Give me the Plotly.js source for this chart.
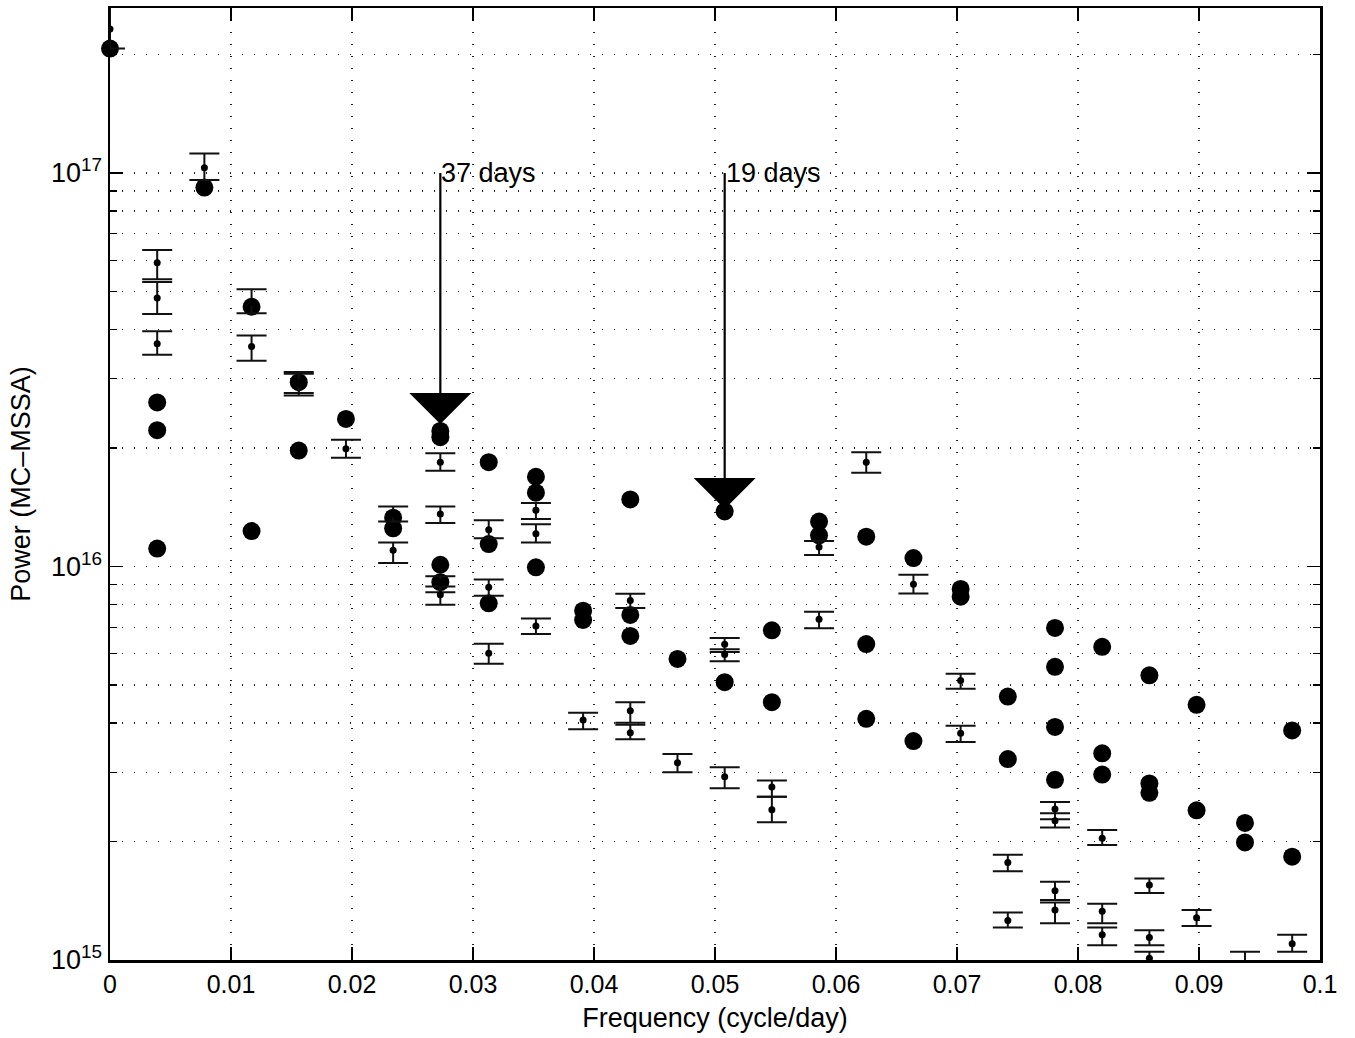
<!DOCTYPE html>
<html><head><meta charset="utf-8">
<script src="https://cdn.plot.ly/plotly-3.0.1.min.js"></script>
<style>html,body{margin:0;padding:0;background:#fff}#chart{width:1355px;height:1038px}</style>
</head><body><div id="chart"></div>
<script>
// Data eigenvalues (large filled circles)
const dataFreq = [
  0,
  0.0039, 0.0039, 0.0039,
  0.0078,
  0.0117, 0.0117,
  0.0156, 0.0156,
  0.0195,
  0.0234, 0.0234,
  0.0273, 0.0273, 0.0273, 0.0273,
  0.0313, 0.0313, 0.0313,
  0.0352, 0.0352, 0.0352,
  0.0391, 0.0391,
  0.0430, 0.0430, 0.0430,
  0.0469,
  0.0508, 0.0508,
  0.0547, 0.0547,
  0.0586, 0.0586,
  0.0625, 0.0625, 0.0625,
  0.0664, 0.0664,
  0.0703, 0.0703,
  0.0742, 0.0742,
  0.0781, 0.0781, 0.0781, 0.0781,
  0.0820, 0.0820, 0.0820,
  0.0859, 0.0859, 0.0859,
  0.0898, 0.0898,
  0.0938, 0.0938,
  0.0977, 0.0977
];
const dataPower = [
  2.07e17,
  2.61e16, 2.22e16, 1.11e16,
  9.18e16,
  4.57e16, 1.23e16,
  2.94e16, 1.97e16,
  2.37e16,
  1.33e16, 1.25e16,
  2.21e16, 2.13e16, 1.01e16, 9.12e15,
  1.84e16, 1.14e16, 8.06e15,
  1.69e16, 1.54e16, 9.95e15,
  7.72e15, 7.31e15,
  1.48e16, 7.53e15, 6.66e15,
  5.82e15,
  1.38e16, 5.08e15,
  6.88e15, 4.52e15,
  1.30e16, 1.20e16,
  1.19e16, 6.35e15, 4.10e15,
  1.05e16, 3.60e15,
  8.77e15, 8.38e15,
  4.67e15, 3.24e15,
  6.98e15, 5.56e15, 3.91e15, 2.87e15,
  6.25e15, 3.35e15, 2.96e15,
  5.29e15, 2.81e15, 2.66e15,
  4.45e15, 2.40e15,
  2.23e15, 1.99e15,
  3.83e15, 1.83e15
];

// Monte Carlo surrogate eigenvalues: median with upper / lower bounds
const mcFreq = [
  0,
  0.0039, 0.0039, 0.0039,
  0.0078,
  0.0117, 0.0117,
  0.0156, 0.0156,
  0.0195,
  0.0234, 0.0234,
  0.0273, 0.0273, 0.0273, 0.0273,
  0.0313, 0.0313, 0.0313,
  0.0352, 0.0352, 0.0352,
  0.0391,
  0.0430, 0.0430, 0.0430,
  0.0469,
  0.0508, 0.0508, 0.0508,
  0.0547, 0.0547,
  0.0586, 0.0586,
  0.0625,
  0.0664,
  0.0703, 0.0703,
  0.0742, 0.0742,
  0.0781, 0.0781, 0.0781, 0.0781,
  0.0820, 0.0820, 0.0820,
  0.0859, 0.0859, 0.0859,
  0.0898,
  0.0938,
  0.0977
];
const mcMedian = [
  2.32e17,
  5.91e16, 4.81e16, 3.68e16,
  1.03e17,
  4.70e16, 3.62e16,
  2.93e16, 2.91e16,
  1.99e16,
  1.36e16, 1.10e16,
  1.84e16, 1.36e16, 9.08e15, 8.47e15,
  1.24e16, 8.86e15, 6.02e15,
  1.39e16, 1.21e16, 7.06e15,
  4.07e15,
  8.19e15, 4.30e15, 3.78e15,
  3.17e15,
  6.34e15, 5.97e15, 2.92e15,
  2.75e15, 2.41e15,
  1.12e16, 7.34e15,
  1.84e16,
  9.01e15,
  5.13e15, 3.77e15,
  1.77e15, 1.26e15,
  2.42e15, 2.26e15, 1.50e15, 1.34e15,
  2.04e15, 1.33e15, 1.16e15,
  1.55e15, 1.14e15, 1.01e15,
  1.28e15,
  1.00e15,
  1.10e15
];
const mcUpper = [
  2.75e17,
  6.37e16, 5.28e16, 3.96e16,
  1.12e17,
  5.06e16, 3.86e16,
  3.12e16, 3.09e16,
  2.10e16,
  1.42e16, 1.15e16,
  1.94e16, 1.42e16, 9.44e15, 8.89e15,
  1.31e16, 9.26e15, 6.36e15,
  1.45e16, 1.28e16, 7.37e15,
  4.25e15,
  8.52e15, 4.52e15, 3.96e15,
  3.34e15,
  6.58e15, 6.16e15, 3.09e15,
  2.86e15, 2.60e15,
  1.16e16, 7.67e15,
  1.95e16,
  9.53e15,
  5.34e15, 3.94e15,
  1.85e15, 1.32e15,
  2.52e15, 2.36e15, 1.58e15, 1.40e15,
  2.14e15, 1.39e15, 1.21e15,
  1.61e15, 1.19e15, 1.05e15,
  1.34e15,
  1.05e15,
  1.16e15
];
const mcLower = [
  2.07e17,
  5.37e16, 4.38e16, 3.45e16,
  9.60e16,
  4.40e16, 3.33e16,
  2.76e16, 2.72e16,
  1.89e16,
  1.30e16, 1.02e16,
  1.75e16, 1.29e16, 8.60e15, 7.99e15,
  1.18e16, 8.43e15, 5.66e15,
  1.32e16, 1.15e16, 6.74e15,
  3.86e15,
  7.84e15, 4.01e15, 3.64e15,
  3.00e15,
  6.06e15, 5.74e15, 2.73e15,
  2.60e15, 2.24e15,
  1.07e16, 6.97e15,
  1.73e16,
  8.53e15,
  4.89e15, 3.58e15,
  1.68e15, 1.21e15,
  2.28e15, 2.17e15, 1.42e15, 1.24e15,
  1.96e15, 1.24e15, 1.09e15,
  1.48e15, 1.09e15, 9.66e14,
  1.22e15,
  9.54e14,
  1.05e15
];

// Arrow annotations
const arrowFreq = [0.0273, 0.0508];
const arrowTip = [2.30e16, 1.40e16];
const arrowTail = [1.0e17, 1.0e17];
const arrowLabels = ['37 days', '19 days'];

// Axis ticks
const yTickVals = [1e15, 1e16, 1e17];
const yTickText = ['10<sup>15</sup>', '10<sup>16</sup>', '10<sup>17</sup>'];

const FONT = 'Liberation Sans, Arial, Helvetica, sans-serif';

const circles = {
  x: dataFreq, y: dataPower, type: 'scatter', mode: 'markers',
  marker: {color: '#000', size: 18, line: {width: 0}},
  cliponaxis: false, hoverinfo: 'x+y', showlegend: false
};
const mc = {
  x: mcFreq, y: mcMedian, type: 'scatter', mode: 'markers',
  marker: {color: '#000', size: 7, line: {width: 0}},
  error_y: {
    type: 'data', symmetric: false,
    array: mcUpper.map((u, i) => u - mcMedian[i]),
    arrayminus: mcLower.map((l, i) => mcMedian[i] - l),
    width: 15, thickness: 2, color: '#111'
  },
  cliponaxis: true, hoverinfo: 'x+y', showlegend: false
};

const annotations = arrowFreq.map((f, i) => ({
  x: f, y: Math.log10(arrowTip[i]), xref: 'x', yref: 'y',
  ax: f, ay: Math.log10(arrowTail[i]), axref: 'x', ayref: 'y',
  text: arrowLabels[i], xanchor: 'left', yanchor: 'middle',
  font: {family: FONT, size: 27, color: '#000'},
  showarrow: true, arrowhead: 1, arrowsize: 4.7, arrowwidth: 2.2,
  arrowcolor: '#000', standoff: 0, borderpad: 0
}));

const gridDash = '1px,11px';
const layout = {
  width: 1355, height: 1038,
  margin: {l: 110, r: 35, t: 8, b: 78, pad: 0},
  paper_bgcolor: '#fff', plot_bgcolor: '#fff',
  font: {family: FONT, color: '#000', size: 25},
  showlegend: false,
  xaxis: {
    range: [0, 0.1], dtick: 0.01, tick0: 0,
    showline: true, linecolor: '#000', linewidth: 2.5, mirror: 'ticks',
    ticks: 'inside', ticklen: 13, tickwidth: 1.2, tickcolor: '#000',
    showgrid: true, gridcolor: '#222', gridwidth: 1.2, griddash: gridDash,
    zeroline: false,
    tickfont: {family: FONT, size: 25, color: '#000'},
    title: {text: 'Frequency (cycle/day)', font: {family: FONT, size: 27, color: '#000'}, standoff: 12}
  },
  yaxis: {
    type: 'log', range: [15, 17.419],
    tickmode: 'array', tickvals: yTickVals, ticktext: yTickText,
    showline: true, linecolor: '#000', linewidth: 2.5, mirror: 'ticks',
    ticks: 'inside', ticklen: 13, tickwidth: 1.2, tickcolor: '#000',
    showgrid: true, gridcolor: '#222', gridwidth: 1.2, griddash: gridDash,
    minor: {dtick: 'D1', ticks: 'inside', ticklen: 7, tickwidth: 1.2, tickcolor: '#000',
            showgrid: true, gridcolor: '#222', gridwidth: 1.2, griddash: gridDash},
    zeroline: false,
    tickfont: {family: FONT, size: 27, color: '#000'},
    title: {text: 'Power (MC–MSSA)', font: {family: FONT, size: 27, color: '#000'}, standoff: 13}
  },
  annotations: annotations
};

Plotly.newPlot('chart', [circles, mc], layout, {displayModeBar: false, staticPlot: true});
</script>
</body></html>
